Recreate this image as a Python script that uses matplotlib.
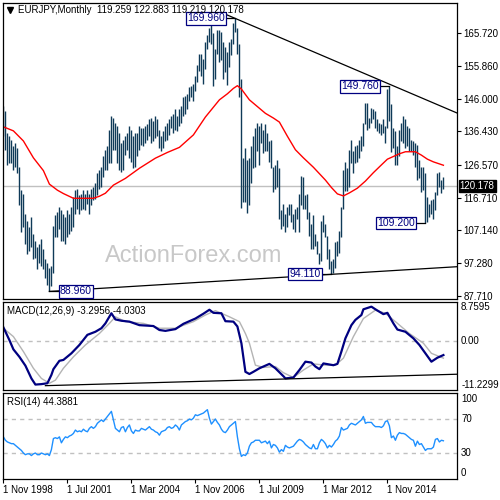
import numpy as np
import matplotlib.pyplot as plt

plt.rcParams['font.family'] = ['Liberation Sans', 'DejaVu Sans']

# EURJPY monthly bars, Nov 1998 .. Mar 2017 (one value per month)
highs = [144.0, 142.5, 136.0, 135.0, 134.0, 132.0, 133.0, 131.5, 126.0, 119.0,
         118.0, 112.0, 110.0, 108.0, 111.0, 106.0, 104.0, 102.0, 103.0, 104.5,
         101.5, 98.5, 97.5, 96.0, 96.5, 108.3, 111.5, 112.5, 114.0, 113.0,
         112.0, 111.0, 113.0, 112.0, 114.0, 117.0, 119.0, 119.5, 117.5, 118.0,
         119.0, 118.0, 119.0, 118.0, 119.5, 120.0, 121.0, 124.0, 125.0, 126.0,
         129.0, 131.0, 132.0, 137.0, 141.0, 140.5, 139.0, 138.0, 136.0, 133.0,
         134.0, 135.0, 136.0, 138.0, 137.0, 135.0, 136.0, 136.0, 138.0, 137.5,
         137.5, 138.0, 138.5, 140.0, 140.5, 139.5, 141.0, 140.0, 137.0, 135.0,
         136.5, 138.0, 139.0, 140.0, 141.0, 141.5, 143.0, 141.0, 143.0, 144.0,
         146.5, 147.0, 147.5, 149.5, 150.0, 150.5, 153.0, 156.0, 159.5, 159.5,
         158.0, 163.0, 165.0, 167.0, 168.9, 165.5, 161.0, 166.5, 166.5, 166.0,
         163.0, 161.5, 160.0, 163.0, 163.8, 168.5, 169.96, 167.0, 162.5, 152.0,
         128.5, 131.5, 128.0, 128.5, 132.0, 135.0, 137.5, 139.0, 138.0, 139.0,
         137.0, 138.5, 136.0, 133.5, 134.0, 126.0, 126.5, 128.0, 125.5, 113.0,
         115.0, 112.0, 114.0, 115.0, 115.0, 112.0, 113.5, 114.0, 118.0, 123.3,
         123.0, 117.5, 118.0, 112.5, 109.0, 111.5, 106.0, 104.0, 100.5, 110.0,
         111.5, 109.0, 105.5, 101.5, 98.0, 98.5, 103.5, 104.0, 107.0, 114.0,
         125.0, 127.5, 125.5, 131.0, 133.8, 130.5, 132.0, 132.5, 134.0, 135.0,
         139.0, 145.0, 145.0, 140.5, 143.5, 143.0, 142.5, 140.0, 139.0, 138.5,
         140.0, 138.0, 149.0, 149.76, 144.5, 137.5, 136.5, 132.0, 137.0, 139.0,
         141.0, 140.0, 138.0, 137.5, 134.0, 133.5, 133.0, 132.5, 128.0, 126.0,
         126.0, 124.0, 117.0, 115.0, 116.0, 116.5, 118.5, 124.0, 124.5, 122.0,
         122.88]
lows = [135.0, 131.0, 126.5, 127.0, 127.0, 125.0, 126.0, 124.0, 114.5, 106.5,
        108.0, 103.0, 100.0, 101.0, 102.0, 98.5, 99.0, 95.5, 97.5, 96.5,
        95.5, 93.0, 91.0, 88.96, 90.5, 94.3, 105.0, 105.0, 107.5, 104.0,
        104.0, 103.0, 105.0, 106.0, 107.0, 108.0, 112.0, 113.5, 112.0, 113.0,
        113.5, 113.0, 115.0, 112.0, 114.5, 116.0, 116.5, 117.5, 119.5, 120.0,
        123.0, 125.0, 125.0, 127.0, 127.0, 131.0, 131.0, 127.0, 125.0, 124.5,
        125.0, 129.5, 131.0, 128.5, 127.5, 125.5, 126.0, 129.0, 131.0, 132.5,
        132.0, 133.0, 134.0, 135.0, 133.0, 133.5, 134.5, 135.0, 131.5, 130.5,
        131.5, 133.5, 134.0, 135.5, 137.5, 136.0, 137.0, 136.5, 138.0, 139.0,
        141.0, 141.5, 143.0, 145.5, 146.5, 145.5, 148.5, 151.0, 154.5, 153.0,
        150.5, 155.0, 161.0, 163.0, 162.5, 149.8, 152.0, 159.5, 157.0, 157.5,
        152.0, 154.0, 150.3, 155.5, 159.0, 162.5, 166.0, 159.5, 146.5, 113.6,
        115.5, 115.5, 112.1, 114.5, 121.0, 125.5, 126.0, 130.5, 126.5, 133.0,
        130.0, 130.5, 130.5, 127.5, 125.5, 118.5, 119.5, 120.0, 110.5, 107.5,
        108.5, 106.5, 108.0, 111.5, 109.5, 107.5, 106.5, 110.5, 106.5, 114.5,
        113.5, 113.5, 110.5, 105.5, 101.5, 101.5, 102.5, 100.0, 97.0, 98.0,
        106.5, 105.0, 98.5, 95.5, 94.11, 94.5, 96.0, 99.5, 100.5, 105.0,
        113.5, 118.7, 118.8, 120.0, 127.0, 124.0, 127.0, 127.5, 128.5, 130.5,
        132.0, 138.5, 137.0, 137.5, 139.0, 140.0, 137.5, 136.5, 136.0, 135.5,
        136.0, 133.0, 137.5, 139.5, 130.2, 131.5, 126.5, 126.5, 129.0, 133.5,
        133.0, 131.5, 132.0, 130.5, 130.5, 129.5, 126.0, 122.0, 122.5, 118.5,
        119.0, 109.2, 109.5, 111.0, 112.0, 110.5, 113.0, 117.5, 120.0, 118.2,
        119.22]
last_close = 120.178

ma_idx = [0, 5, 10, 15, 20, 23, 27, 30, 35, 40, 45, 48, 51, 55, 61, 68, 76, 82, 88, 95,
          101, 108, 112, 115, 117, 119, 123, 127, 131, 135, 138, 142, 146, 150, 155, 161,
          164, 167, 170, 173, 177, 181, 185, 189, 192, 195, 198, 201, 206, 209, 212, 215,
          218, 220]
ma_val = [137.8, 136.6, 133.6, 128.6, 124.8, 120.8, 119.0, 118.0, 116.6, 116.6,
          116.6, 117.2, 118.1, 120.5, 122.5, 125.5, 128.5, 130.2, 131.7, 135.4,
          140.7, 145.8, 147.6, 149.2, 150.0, 149.0, 145.8, 143.8, 141.8, 140.4,
          139.2, 135.0, 131.0, 128.6, 125.8, 122.0, 119.8, 117.9, 117.3, 118.2,
          119.6, 121.7, 124.2, 126.5, 128.2, 129.0, 129.8, 130.4, 130.4, 129.4,
          128.2, 127.4, 126.8, 126.4]

# MACD(12,26,9) main line and signal
macd_idx = [0, 3, 5, 8, 11, 14, 16, 19, 22, 24, 25, 28, 30, 34, 38, 42, 46, 49, 51, 54,
            56, 59, 63, 68, 75, 78, 81, 86, 90, 96, 100, 103, 105, 109, 111, 115, 117, 119,
            121, 123, 125, 128, 133, 136, 140, 141, 145, 148, 151, 154, 156, 158, 160, 165,
            167, 169, 171, 174, 176, 179, 180, 184, 186, 190, 192, 195, 197, 201, 205, 208,
            211, 214, 217, 220]
macd_val = [3.0, 0.1, -2.0, -3.7, -5.7, -8.6, -10.0, -9.9, -9.7, -7.8,
            -6.5, -4.6, -4.4, -2.9, -1.0, 1.3, 2.0, 2.8, 3.9, 6.2,
            4.8, 4.5, 4.3, 3.5, 3.3, 2.4, 2.2, 2.6, 3.8, 5.0,
            6.1, 7.0, 6.3, 6.2, 4.4, 4.3, 3.2, -0.6, -7.1, -7.6,
            -7.1, -6.3, -5.3, -6.3, -8.1, -8.6, -8.4, -6.7, -4.8, -5.0,
            -5.9, -6.5, -5.2, -5.6, -5.3, -2.5, 0.5, 3.5, 4.7, 5.8,
            7.1, 7.7, 7.1, 6.0, 6.3, 3.9, 2.5, 2.0, 0.5, -1.0,
            -2.9, -4.8, -3.9, -3.3]
sig_idx = [0, 5, 10, 15, 19, 23, 26, 30, 35, 41, 48, 53, 56, 61, 70, 78, 86, 95, 101, 106,
           113, 118, 121, 123, 126, 130, 136, 140, 145, 150, 155, 161, 166, 170, 175, 180,
           186, 191, 196, 203, 210, 214, 220]
sig_val = [2.8, 0.9, -2.5, -6.3, -8.6, -9.7, -9.0, -6.3, -3.7, -1.0,
           1.6, 3.9, 5.4, 4.3, 3.9, 2.8, 2.8, 4.3, 5.8, 6.8,
           5.4, 4.3, 1.6, -0.6, -5.6, -6.1, -5.9, -7.3, -8.4, -6.7,
           -5.3, -5.6, -5.6, -4.0, 0.9, 5.0, 6.9, 6.2, 4.3, 1.6,
           -0.6, -2.9, -4.0]

# RSI(14), monthly
rsi = [49, 45, 43, 42, 41, 41, 39, 37, 35, 33, 30, 28, 29, 29, 27, 29, 30, 28, 28, 30,
       29, 28, 29, 27, 34, 47, 48, 47, 49, 42, 46, 49, 48, 50, 51, 53, 57, 55, 56, 55,
       58, 56, 55, 59, 61, 59, 61, 65, 67, 69, 67, 70, 73, 76, 79, 69, 59, 57, 55, 60,
       61, 55, 60, 63, 56, 53, 57, 56, 56, 59, 58, 57, 59, 61, 58, 57, 55, 54, 51, 55,
       56, 57, 60, 61, 59, 60, 63, 61, 57, 63, 65, 67, 68, 70, 69, 71, 75, 74, 75, 76,
       77, 79, 81, 71, 64, 67, 70, 66, 63, 58, 55, 54, 57, 61, 63, 65, 67, 49, 35, 26,
       28, 27, 30, 38, 42, 43, 45, 45, 45, 42, 43, 44, 41, 44, 36, 40, 39, 36, 31, 34,
       32, 39, 37, 36, 37, 38, 41, 44, 46, 45, 43, 40, 38, 36, 35, 40, 35, 35, 42, 46,
       44, 41, 36, 39, 37, 40, 44, 46, 50, 60, 57, 58, 59, 63, 65, 64, 63, 65, 67, 69,
       73, 65, 66, 66, 66, 63, 61, 61, 61, 60, 62, 67, 68, 62, 48, 50, 45, 51, 54, 53,
       53, 52, 50, 48, 46, 45, 38, 44, 40, 41, 37, 33, 35, 35, 35, 37, 46, 47, 43, 45,
       44.39]

price_ticks = [165.72, 155.86, 146.0, 136.43, 126.57, 116.71, 107.14, 97.28, 87.71]
date_ticks = [0, 32, 64, 96, 128, 160, 192]
date_labels = ['1 Nov 1998', '1 Jul 2001', '1 Mar 2004', '1 Nov 2006',
               '1 Jul 2009', '1 Mar 2012', '1 Nov 2014']

# swing points marked with boxes, and trend lines
swings = [(116, 169.96, 'left'), (23, 88.96, 'right'), (193, 149.76, 'left'),
          (164, 94.11, 'left'), (211, 109.2, 'left')]
upper_line = ([111, 226.8], [171.2, 141.9])
lower_line = ([23, 226.8], [88.96, 96.3])
macd_line = ([21, 226.8], [-10.25, -7.65])

months = np.arange(len(highs))
navy = '#000080'

fig = plt.figure(figsize=(5, 5), dpi=100)


def box(x0, y0, x1, y1):
    return [x0 / 500, 1 - y1 / 500, (x1 - x0) / 500, (y1 - y0) / 500]


ax = fig.add_axes(box(3, 3, 457, 299))
ax2 = fig.add_axes(box(3, 302, 457, 390))
ax3 = fig.add_axes(box(3, 392.5, 457, 478.5))

for a in (ax, ax2, ax3):
    a.set_xlim(-0.2, 226.8)
    for s in a.spines.values():
        s.set_linewidth(0.9)

# --- price panel ---
ax.set_ylim(86.72, 174.53)
ax.axhline(last_close, color='#c0c0c0', lw=1, zorder=0)
ax.text(0.421, 0.145, 'ActionForex.com', transform=ax.transAxes, fontsize=17,
        color='#c8c8c8', ha='center', va='center', zorder=0)
ax.vlines(months, lows, highs, color='#0f3a58', lw=1.0)
ax.plot(ma_idx, ma_val, color='red', lw=1)
ax.plot(*upper_line, color='black', lw=0.9)
ax.plot(*lower_line, color='black', lw=0.9)

for i, v, side in swings:
    if side == 'left':
        xt, ha = i - 5.3, 'right'
    else:
        xt, ha = i + 5.3, 'left'
    ax.plot([xt, i], [v, v], color='black', lw=0.9)
    ax.text(xt, v, '%.3f' % v, ha=ha, va='center', fontsize=7.5, color=navy,
            bbox=dict(boxstyle='square,pad=0.12', fc='white', ec=navy, lw=0.9))

ax.plot([0.016], [0.976], marker='v', color='black', ms=4, transform=ax.transAxes)
ax.text(0.033, 0.976, 'EURJPY,Monthly  119.259 122.883 119.219 120.178',
        transform=ax.transAxes, fontsize=7, va='center')

ax.set_xticks([])
ax.yaxis.tick_right()
ax.set_yticks(price_ticks)
ax.set_yticklabels(['%.3f' % t for t in price_ticks])
ax.tick_params(axis='y', direction='out', length=3, width=0.8, pad=1.5, labelsize=7)
ax.text(1.006, last_close, '%.3f' % last_close, transform=ax.get_yaxis_transform(),
        ha='left', va='center', fontsize=7, color='white', clip_on=False,
        bbox=dict(boxstyle='square,pad=0.12', fc='black', ec='black'))

# --- MACD panel ---
ax2.set_ylim(-11.234, 8.7595)
ax2.axhline(0, color='#c0c0c0', lw=1, ls=(0, (3, 3)))
ax2.plot(sig_idx, sig_val, color='#b4b4b4', lw=1)
ax2.plot(macd_idx, macd_val, color=navy, lw=1.6)
ax2.plot(*macd_line, color='black', lw=0.9)
ax2.set_xticks([])
ax2.set_yticks([])
ax2.text(0.009, 0.9, 'MACD(12,26,9) -3.2956 -4.0303', transform=ax2.transAxes,
         fontsize=7, va='center')
yt = ax2.get_yaxis_transform()
ax2.text(1.009, 8.7595, '8.7595', transform=yt, fontsize=7, va='top')
ax2.text(1.009, 0, '0.00', transform=yt, fontsize=7, va='center')
ax2.text(1.009, -11.2299, '-11.2299', transform=yt, fontsize=7, va='bottom')

# --- RSI panel ---
ax3.set_ylim(0, 101.2)
for lvl in (30, 70):
    ax3.axhline(lvl, color='#c0c0c0', lw=1, ls=(0, (3, 3)))
ax3.plot(months, rsi, color='#1e90ff', lw=1)
ax3.set_yticks([])
ax3.text(0.009, 0.89, 'RSI(14) 44.3881', transform=ax3.transAxes, fontsize=7, va='center')
yt3 = ax3.get_yaxis_transform()
ax3.text(1.009, 100, '100', transform=yt3, fontsize=7, va='top')
ax3.text(1.009, 70, '70', transform=yt3, fontsize=7, va='center')
ax3.text(1.009, 30, '30', transform=yt3, fontsize=7, va='center')
ax3.text(1.009, 0, '0', transform=yt3, fontsize=7, va='bottom')
ax3.set_xticks(date_ticks)
ax3.set_xticklabels(date_labels)
ax3.tick_params(axis='x', direction='out', length=3, width=0.8, pad=2, labelsize=7)
for tick in ax3.get_xticklabels():
    tick.set_horizontalalignment('left')

fig.savefig('out.png', dpi=100)
